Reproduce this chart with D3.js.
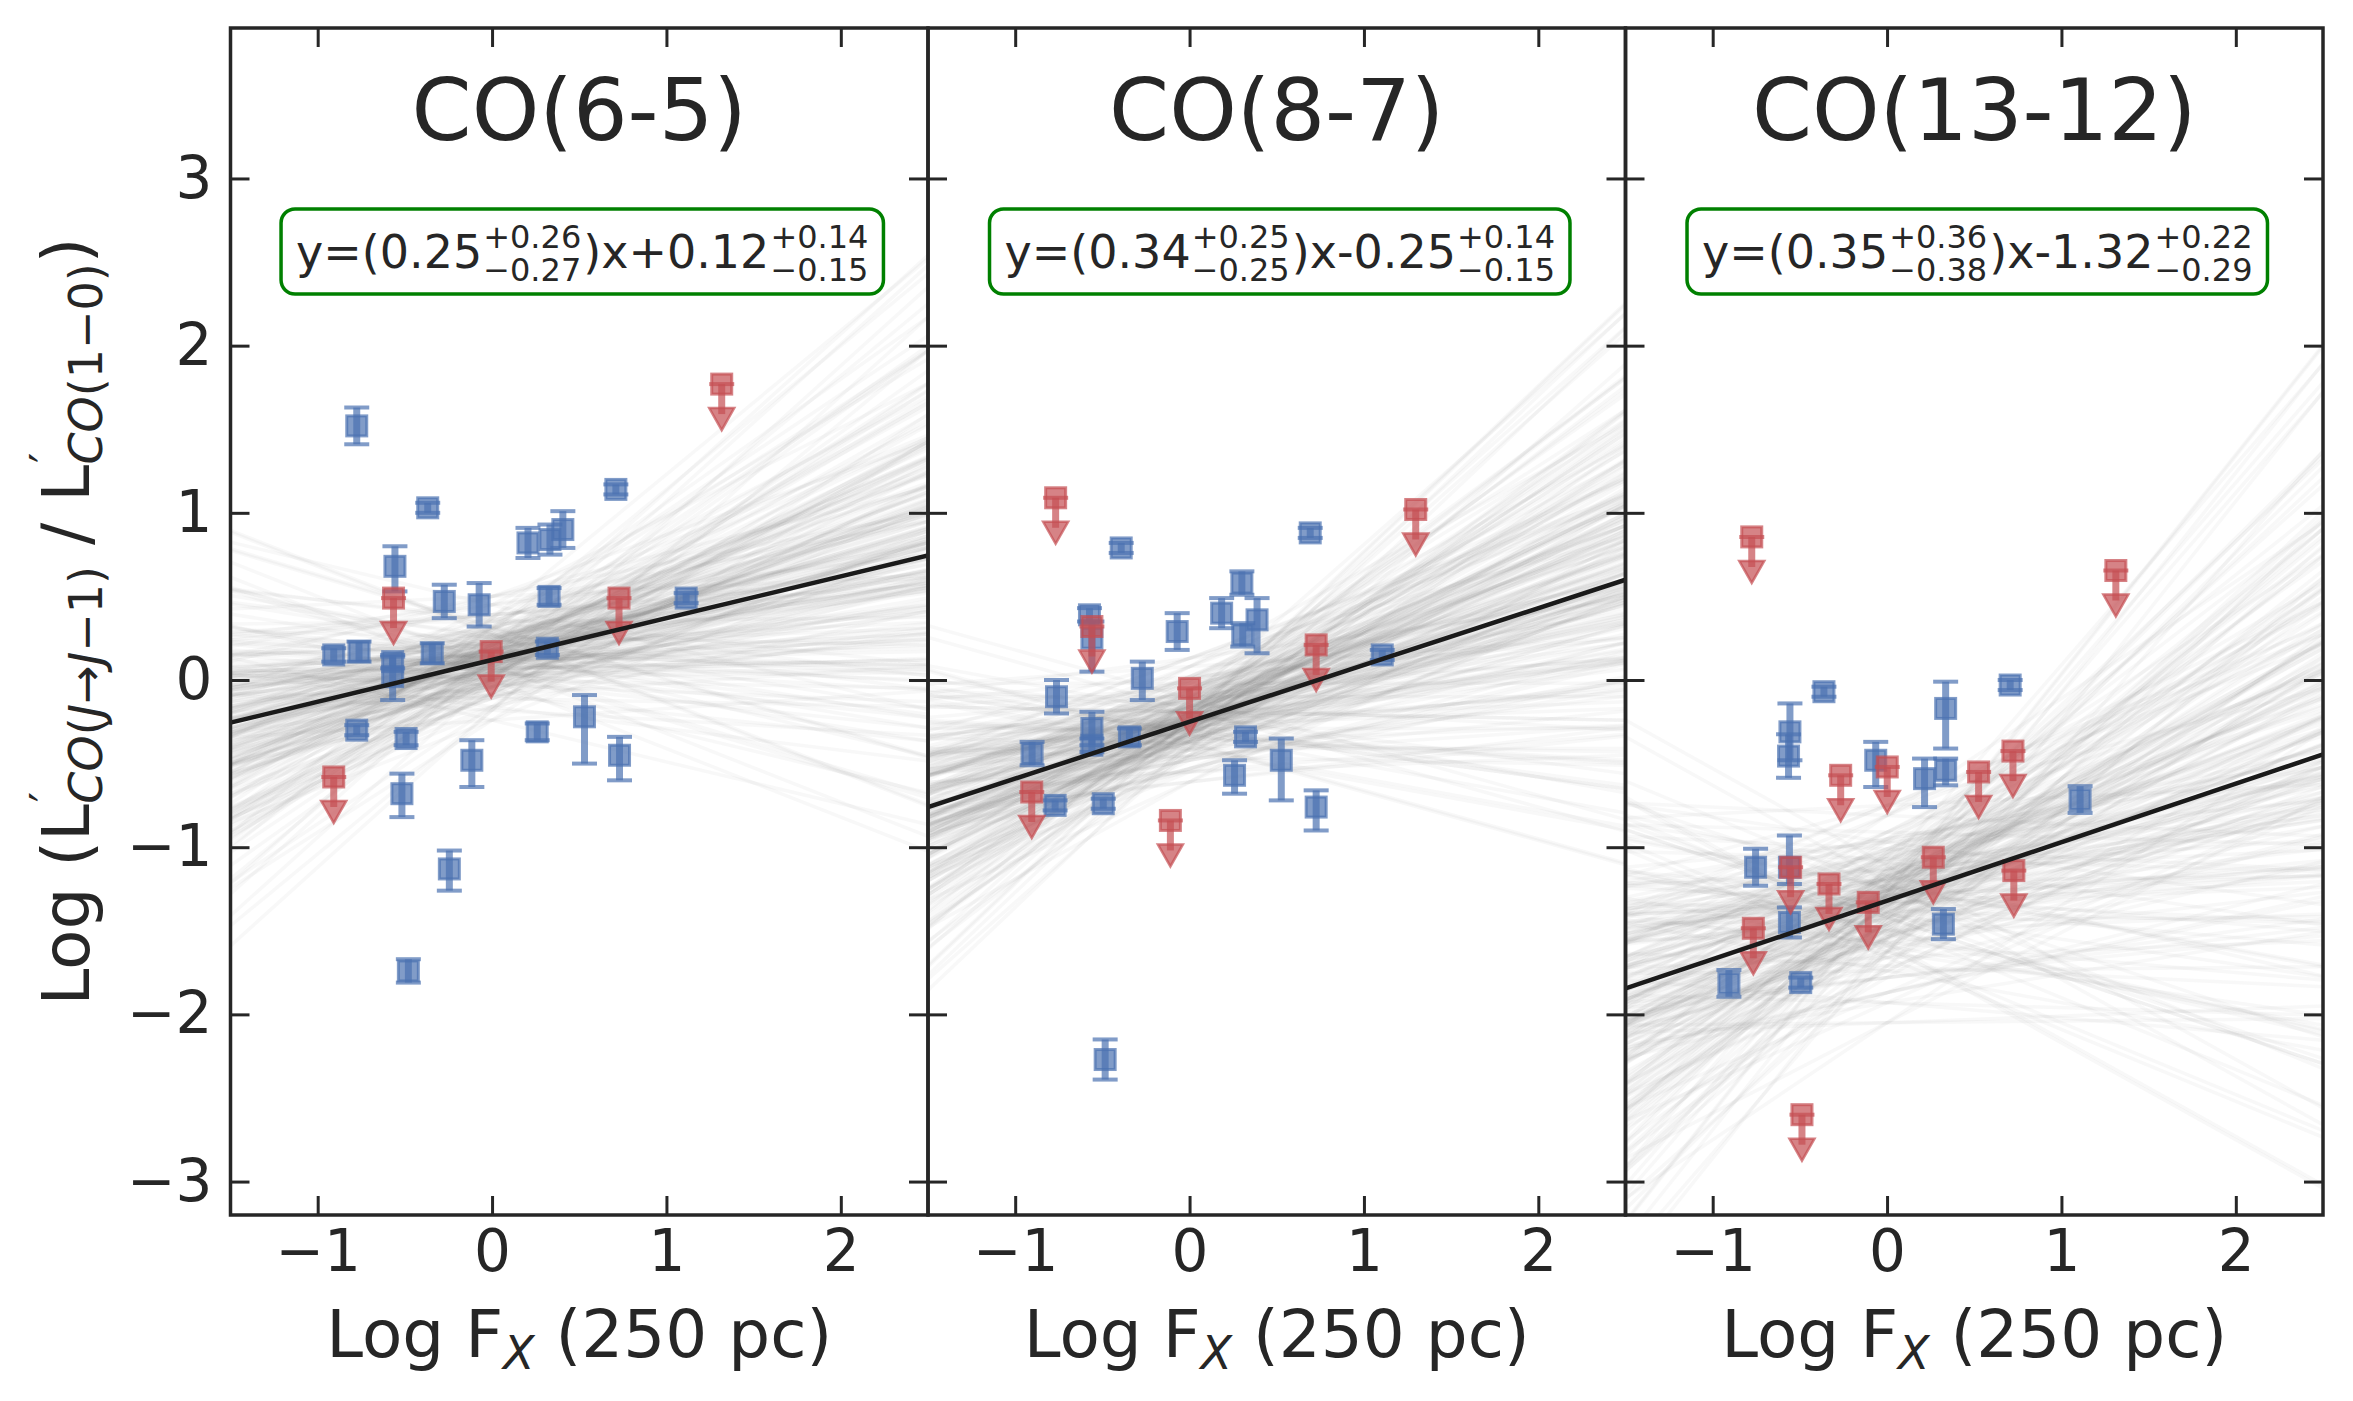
<!DOCTYPE html>
<html><head><meta charset="utf-8">
<script src="https://cdn.jsdelivr.net/npm/d3@7"></script>
<style>
body{margin:0;background:#fff}
svg{display:block}
text{font-family:"DejaVu Sans",sans-serif;fill:#262626}
</style>
</head><body>
<svg id="chart" width="2353" height="1401"></svg>
<script>
// ---------------- data ----------------
const panelTitles = ["CO(6-5)", "CO(8-7)", "CO(13-12)"];
const xTicks = [-1, 0, 1, 2];
const yTicks = [-3, -2, -1, 0, 1, 2, 3];

const fitSlope = [0.25, 0.34, 0.35];
const fitIntercept = [0.12, -0.25, -1.32];
const eqSlope = ["0.25", "0.34", "0.35"];
const eqSlopeUp = ["+0.26", "+0.25", "+0.36"];
const eqSlopeDn = ["\u22120.27", "\u22120.25", "\u22120.38"];
const eqInt = ["+0.12", "-0.25", "-1.32"];
const eqIntUp = ["+0.14", "+0.14", "+0.22"];
const eqIntDn = ["\u22120.15", "\u22120.15", "\u22120.29"];

// detections: x, y, lower error, upper error
const det1X  = [-0.776,-0.369,0.710,0.206,0.332,0.406,-0.557,-0.274,-0.074,0.327,1.113,-0.908,-0.763,-0.570,-0.570,-0.343,0.317,-0.776,-0.493,0.259,0.530,0.731,-0.116,-0.517,-0.245,-0.480];
const det1Y  = [1.52,1.03,1.14,0.82,0.84,0.90,0.68,0.47,0.45,0.50,0.49,0.15,0.17,0.11,0.02,0.16,0.19,-0.30,-0.35,-0.31,-0.22,-0.45,-0.48,-0.68,-1.13,-1.74];
const det1Lo = [0.11,0.03,0.03,0.09,0.09,0.11,0.15,0.10,0.13,0.05,0.03,0.04,0.06,0.04,0.14,0.06,0.04,0.03,0.04,0.05,0.28,0.15,0.16,0.14,0.13,0.07];
const det1Hi = [0.11,0.03,0.03,0.09,0.09,0.11,0.12,0.10,0.13,0.05,0.03,0.04,0.06,0.04,0.12,0.06,0.04,0.03,0.04,0.05,0.13,0.11,0.12,0.12,0.11,0.07];
const lim1X  = [1.317,-0.565,0.728,-0.005,-0.908];
const lim1Y  = [1.77,0.49,0.49,0.17,-0.58];

const det2X  = [-0.392,0.692,0.300,0.184,0.387,0.305,-0.574,-0.560,-0.560,-0.560,-0.071,-0.763,-0.271,-0.345,-0.903,-0.771,-0.495,0.321,0.258,0.526,0.726,1.105,-0.484];
const det2Y  = [0.79,0.88,0.58,0.40,0.36,0.27,0.39,0.25,-0.29,-0.39,0.29,-0.10,0.01,-0.34,-0.44,-0.75,-0.74,-0.34,-0.57,-0.48,-0.76,0.15,-2.27];
const det2Lo = [0.03,0.03,0.07,0.09,0.20,0.07,0.04,0.20,0.10,0.04,0.11,0.10,0.13,0.05,0.07,0.03,0.03,0.03,0.11,0.24,0.14,0.03,0.12];
const det2Hi = [0.03,0.03,0.07,0.09,0.13,0.07,0.04,0.10,0.10,0.04,0.11,0.10,0.10,0.05,0.07,0.03,0.03,0.03,0.09,0.13,0.10,0.03,0.12];
const lim2X  = [-0.768,1.297,-0.560,0.000,-0.905,-0.110,0.726];
const lim2Y  = [1.09,1.02,0.32,-0.05,-0.67,-0.84,0.21];

const det3X  = [-0.362,0.706,0.336,-0.557,-0.565,-0.065,0.215,0.336,1.107,-0.754,-0.560,-0.560,0.323,-0.907,-0.495];
const det3Y  = [-0.07,-0.03,-0.17,-0.31,-0.455,-0.48,-0.59,-0.54,-0.715,-1.12,-1.12,-1.45,-1.46,-1.815,-1.81];
const det3Lo = [0.03,0.03,0.24,0.17,0.13,0.16,0.17,0.09,0.08,0.11,0.10,0.09,0.09,0.08,0.03];
const det3Hi = [0.03,0.03,0.16,0.17,0.13,0.11,0.12,0.07,0.08,0.11,0.19,0.09,0.09,0.08,0.03];
const lim3X  = [-0.776,1.312,-0.266,0.001,0.525,0.722,-0.553,-0.333,-0.108,0.265,0.727,-0.767,-0.488];
const lim3Y  = [0.856,0.655,-0.57,-0.52,-0.55,-0.425,-1.12,-1.22,-1.33,-1.06,-1.14,-1.485,-2.6];

// posterior draws (slope, intercept) shown as faint grey lines
const draw1Slope = [0.28,-0.11,0.43,0.19,0.67,0.04,0.26,0.50,0.12,-0.31,0.35,0.57,0.23,-0.02,0.40,0.86,0.16,0.46,0.07,0.31,-0.17,0.53,0.21,0.37,0.01,0.74,0.27,0.14,0.41,-0.06,0.33,0.10,0.62,0.24,0.45,-0.25,0.30,0.18,0.55,0.05,0.38,-0.13,0.34,0.48,0.22,0.09,0.94,0.15,0.26,0.59,-0.04,0.41,0.20,0.02,0.32,0.70,0.12,0.36,-0.41,0.29];
const draw1Int   = [0.18,-0.01,0.39,0.13,0.06,0.21,-0.05,0.16,0.04,0.32,0.12,0.23,-0.16,0.14,0.08,0.28,0.01,0.19,-0.09,0.17,0.25,0.10,0.03,0.50,0.07,0.12,0.31,-0.04,0.21,0.09,0.00,0.16,0.37,0.05,0.18,-0.24,0.14,0.14,-0.08,0.22,0.09,0.35,0.00,0.12,0.26,0.05,-0.18,0.18,0.30,0.11,-0.03,0.20,0.45,0.07,0.24,0.02,0.15,-0.11,0.27,0.10];
const draw2Slope = [0.37,0.00,0.51,0.28,0.74,0.14,0.35,0.58,0.22,-0.19,0.44,0.65,0.33,0.09,0.48,0.92,0.26,0.54,0.17,0.39,-0.06,0.60,0.30,0.45,0.11,0.80,0.36,0.24,0.50,0.04,0.41,0.20,0.69,0.34,0.53,-0.14,0.38,0.27,0.62,0.15,0.47,-0.02,0.42,0.56,0.31,0.19,0.99,0.25,0.35,0.67,0.07,0.49,0.29,0.13,0.41,0.77,0.22,0.44,-0.29,0.38];
const draw2Int   = [-0.27,-0.10,-0.48,-0.22,-0.35,-0.13,-0.30,0.08,-0.17,-0.40,-0.26,-0.07,-0.19,-0.55,-0.32,-0.11,-0.25,-0.37,-0.02,-0.28,-0.15,-0.45,-0.23,-0.23,-0.61,-0.19,-0.32,0.00,-0.21,-0.37,-0.28,-0.16,-0.41,-0.06,-0.25,-0.30,0.13,-0.34,-0.27,-0.12,-0.20,-0.46,-0.18,-0.36,-0.09,-0.29,-0.23,-0.53,-0.14,-0.25,-0.05,-0.33,-0.21,-0.42,-0.16,-0.31,-0.24,0.02,-0.38,-0.19];
const draw3Slope = [0.39,-0.15,0.60,0.26,0.93,0.05,0.36,0.70,0.17,-0.43,0.49,0.80,0.33,-0.03,0.55,1.20,0.23,0.65,0.10,0.43,-0.24,0.74,0.29,0.51,0.01,1.03,0.38,0.19,0.58,-0.09,0.46,0.14,0.87,0.34,0.62,-0.35,0.41,0.25,0.76,0.07,0.54,-0.19,0.47,0.68,0.31,0.12,1.31,0.22,0.36,0.83,-0.05,0.57,0.28,0.04,0.45,0.98,0.17,0.50,-0.58,0.40];
const draw3Int   = [-1.36,-1.09,-1.78,-1.27,-1.52,-1.14,-1.42,-0.81,-1.20,-1.62,-1.34,-1.05,-1.24,-1.93,-1.46,-1.11,-1.31,-1.55,-0.97,-1.39,-1.17,-1.71,-1.29,-1.29,-2.05,-1.23,-1.47,-0.95,-1.26,-1.57,-1.38,-1.19,-1.63,-1.03,-1.32,-1.42,-0.75,-1.50,-1.35,-1.13,-1.25,-1.74,-1.21,-1.54,-1.07,-1.40,-1.28,-1.87,-1.16,-1.33,-1.01,-1.49,-1.26,-1.66,-1.18,-1.44,-1.30,-0.91,-1.59,-1.22];
// the slope and intercept draws are combined in several pairings
const drawPairOffsets = [0, 17, 31, 44];

const panels = [
  {det:{x:det1X,y:det1Y,lo:det1Lo,hi:det1Hi}, lim:{x:lim1X,y:lim1Y}, dS:draw1Slope, dI:draw1Int},
  {det:{x:det2X,y:det2Y,lo:det2Lo,hi:det2Hi}, lim:{x:lim2X,y:lim2Y}, dS:draw2Slope, dI:draw2Int},
  {det:{x:det3X,y:det3Y,lo:det3Lo,hi:det3Hi}, lim:{x:lim3X,y:lim3Y}, dS:draw3Slope, dI:draw3Int}
];

// ---------------- layout ----------------
const svg = d3.select("#chart");
const left0 = 230.5, PW = 697.5, topY = 28, botY = 1215;
const BLUE = "#4c72b0", RED = "#c44e52", INK = "#262626";
const ALPHA = 0.7;
const xDomain = [-1.5, 2.5], yDomain = [-3.2, 3.9];
const yS = d3.scaleLinear().domain(yDomain).range([botY, topY]);

panels.forEach((P, i) => {
  const L = left0 + i * PW;
  const x = d3.scaleLinear().domain(xDomain).range([L, L + PW]);
  const y = yS;
  const g = svg.append("g");
  const cid = "clip" + i;
  svg.append("clipPath").attr("id", cid).append("rect")
    .attr("x", L).attr("y", topY).attr("width", PW).attr("height", botY - topY);
  const plot = g.append("g").attr("clip-path", `url(#${cid})`);

  // posterior draws
  const n = P.dS.length;
  const pairs = [];
  drawPairOffsets.forEach(off => P.dS.forEach((s, k) => pairs.push([s, P.dI[(k + off) % n]])));
  plot.append("g").selectAll("line").data(pairs).join("line")
    .attr("x1", x(xDomain[0])).attr("x2", x(xDomain[1]))
    .attr("y1", d => y(d[1] + d[0] * xDomain[0]))
    .attr("y2", d => y(d[1] + d[0] * xDomain[1]))
    .attr("stroke", "#707070").attr("stroke-width", 3.5).attr("stroke-opacity", 0.05);

  // detections
  const dets = P.det.x.map((xx, k) => ({x: xx, y: P.det.y[k], lo: P.det.lo[k], hi: P.det.hi[k]}));
  const dg = plot.append("g").selectAll("g").data(dets).join("g");
  dg.append("line").attr("x1", d => x(d.x)).attr("x2", d => x(d.x))
    .attr("y1", d => y(d.y - d.lo)).attr("y2", d => y(d.y + d.hi))
    .attr("stroke", BLUE).attr("stroke-width", 7).attr("stroke-opacity", ALPHA);
  [d => d.y - d.lo, d => d.y + d.hi].forEach(f => {
    dg.append("line").attr("x1", d => x(d.x) - 12.5).attr("x2", d => x(d.x) + 12.5)
      .attr("y1", d => y(f(d))).attr("y2", d => y(f(d)))
      .attr("stroke", BLUE).attr("stroke-width", 4).attr("stroke-opacity", ALPHA);
  });
  dg.append("rect").attr("x", d => x(d.x) - 10).attr("y", d => y(d.y) - 10)
    .attr("width", 20).attr("height", 20)
    .attr("fill", BLUE).attr("fill-opacity", ALPHA)
    .attr("stroke", BLUE).attr("stroke-opacity", ALPHA).attr("stroke-width", 3);

  // upper limits
  const lims = P.lim.x.map((xx, k) => ({x: xx, y: P.lim.y[k]}));
  const lg = plot.append("g").selectAll("g").data(lims).join("g");
  lg.append("line").attr("x1", d => x(d.x)).attr("x2", d => x(d.x))
    .attr("y1", d => y(d.y)).attr("y2", d => y(d.y) + 30)
    .attr("stroke", RED).attr("stroke-width", 7).attr("stroke-opacity", ALPHA);
  lg.append("path").attr("d", d => {
      const cx = x(d.x), cy = y(d.y) + 35;
      return `M${cx - 12.5},${cy - 11}L${cx + 12.5},${cy - 11}L${cx},${cy + 11}Z`;
    })
    .attr("fill", RED).attr("fill-opacity", ALPHA)
    .attr("stroke", RED).attr("stroke-opacity", ALPHA).attr("stroke-width", 2.5).attr("stroke-linejoin", "miter");
  lg.append("line").attr("x1", d => x(d.x) - 12.5).attr("x2", d => x(d.x) + 12.5)
    .attr("y1", d => y(d.y)).attr("y2", d => y(d.y))
    .attr("stroke", RED).attr("stroke-width", 4).attr("stroke-opacity", ALPHA);
  lg.append("rect").attr("x", d => x(d.x) - 10).attr("y", d => y(d.y) - 10)
    .attr("width", 20).attr("height", 20)
    .attr("fill", RED).attr("fill-opacity", ALPHA)
    .attr("stroke", RED).attr("stroke-opacity", ALPHA).attr("stroke-width", 3);

  // best-fit line
  plot.append("line")
    .attr("x1", x(xDomain[0])).attr("x2", x(xDomain[1]))
    .attr("y1", y(fitIntercept[i] + fitSlope[i] * xDomain[0]))
    .attr("y2", y(fitIntercept[i] + fitSlope[i] * xDomain[1]))
    .attr("stroke", "#1a1a1a").attr("stroke-width", 4.5);

  // axes (inward ticks on all four sides)
  const tk = 19;
  const axB = g.append("g").attr("transform", `translate(0,${botY})`)
    .call(d3.axisBottom(x).tickValues(xTicks).tickSizeInner(-tk).tickSizeOuter(0).tickPadding(15)
      .tickFormat(d3.format("d")));
  const axT = g.append("g").attr("transform", `translate(0,${topY})`)
    .call(d3.axisTop(x).tickValues(xTicks).tickSizeInner(-tk).tickSizeOuter(0).tickFormat(""));
  const axL = g.append("g").attr("transform", `translate(${L},0)`)
    .call(d3.axisLeft(y).tickValues(yTicks).tickSizeInner(-tk).tickSizeOuter(0).tickPadding(18)
      .tickFormat(i === 0 ? d3.format("d") : ""));
  const axR = g.append("g").attr("transform", `translate(${L + PW},0)`)
    .call(d3.axisRight(y).tickValues(yTicks).tickSizeInner(-tk).tickSizeOuter(0).tickFormat(""));
  [axB, axT, axL, axR].forEach(a => {
    a.select(".domain").remove();
    a.selectAll(".tick line").attr("stroke", INK).attr("stroke-width", 3);
    a.selectAll(".tick text").attr("font-size", 58).attr("fill", INK)
      .attr("font-family", "DejaVu Sans");
  });

  // frame
  g.append("rect").attr("x", L).attr("y", topY).attr("width", PW).attr("height", botY - topY)
    .attr("fill", "none").attr("stroke", INK).attr("stroke-width", 3.5);

  // title
  g.append("text").attr("x", L + PW / 2).attr("y", 140).attr("text-anchor", "middle")
    .attr("font-size", 86).text(panelTitles[i]);

  // x label
  const xl = g.append("text").attr("x", L + PW / 2).attr("y", 1357).attr("text-anchor", "middle")
    .attr("font-size", 66);
  xl.append("tspan").text("Log F");
  xl.append("tspan").attr("font-size", 46).attr("font-style", "italic").attr("dy", 12).text("X");
  xl.append("tspan").attr("dy", -12).text(" (250 pc)");

  // equation box
  const eg = g.append("g");
  const parts = [
    {t: "y=(" + eqSlope[i]},
    {sup: eqSlopeUp[i], sub: eqSlopeDn[i]},
    {t: ")x" + eqInt[i]},
    {sup: eqIntUp[i], sub: eqIntDn[i]}
  ];
  const base = 268;
  let xc = 0; const items = [];
  parts.forEach(p => {
    if (p.t !== undefined) {
      const el = eg.append("text").attr("font-size", 46).text(p.t);
      items.push({el, x: xc, dy: 0});
      xc += el.node().getComputedTextLength() + 1;
    } else {
      const a = eg.append("text").attr("font-size", 32).text(p.sup);
      const b = eg.append("text").attr("font-size", 32).text(p.sub);
      items.push({el: a, x: xc, dy: -20});
      items.push({el: b, x: xc, dy: 13});
      xc += Math.max(a.node().getComputedTextLength(), b.node().getComputedTextLength()) + 2;
    }
  });
  const x0 = L + PW / 2 - xc / 2 + 4;
  items.forEach(it => it.el.attr("x", x0 + it.x).attr("y", base + it.dy));
  eg.insert("rect", "text").attr("x", x0 - 15).attr("y", 209).attr("width", xc + 28).attr("height", 85)
    .attr("rx", 14).attr("ry", 14).attr("fill", "#fff").attr("stroke", "green").attr("stroke-width", 3.5);
});

// y label
const yl = svg.append("text").attr("transform", `translate(89,${(topY + botY) / 2}) rotate(-90)`)
  .attr("text-anchor", "middle").attr("font-size", 66);
yl.append("tspan").text("Log (L");
yl.append("tspan").attr("font-size", 46).attr("dy", -26).attr("dx", 2).text("\u2032");
const s1 = yl.append("tspan").attr("font-size", 46).attr("dy", 39).attr("dx", -12);
s1.append("tspan").attr("font-style", "italic").text("CO");
s1.append("tspan").text("(");
s1.append("tspan").attr("font-style", "italic").text("J");
s1.append("tspan").text("\u2192");
s1.append("tspan").attr("font-style", "italic").text("J");
s1.append("tspan").text("\u22121)");
yl.append("tspan").attr("dy", -13).text(" / L");
yl.append("tspan").attr("font-size", 46).attr("dy", -26).attr("dx", 2).text("\u2032");
const s2 = yl.append("tspan").attr("font-size", 46).attr("dy", 39).attr("dx", -12);
s2.append("tspan").attr("font-style", "italic").text("CO");
s2.append("tspan").text("(1\u22120)");
yl.append("tspan").attr("dy", -13).text(")");
</script>
</body></html>
